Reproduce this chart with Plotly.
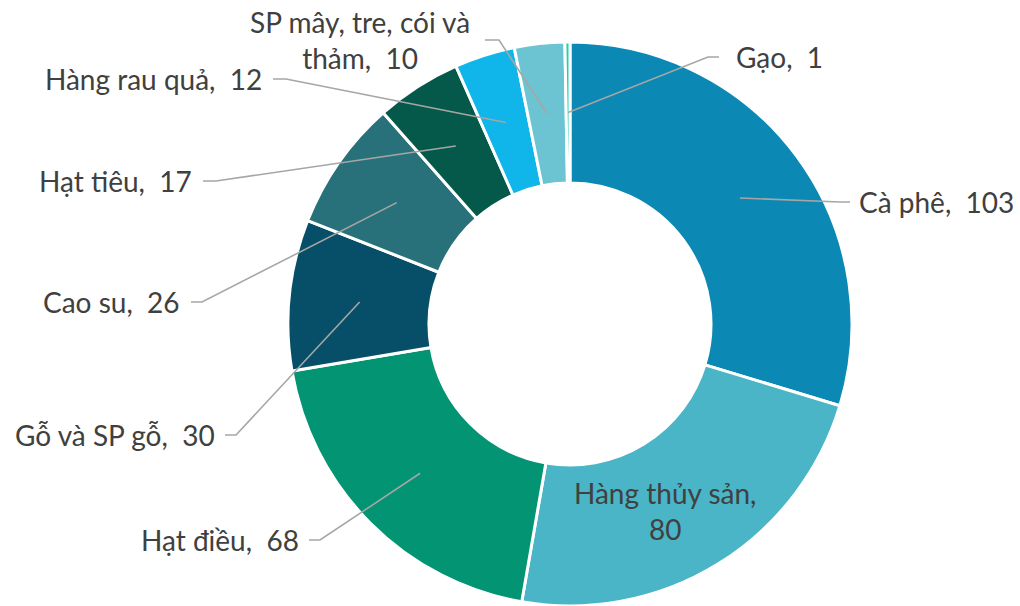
import math
import plotly.graph_objects as go

# ---- data ----
labels = ["Cà phê", "Hàng thủy sản", "Hạt điều", "Gỗ và SP gỗ", "Cao su",
          "Hạt tiêu", "Hàng rau quả", "SP mây, tre, cói và thảm", "Gạo"]
values = [103, 80, 68, 30, 26, 17, 12, 10, 1]
colors = ["#0b88b3", "#4ab5c6", "#039473", "#074f69", "#28717a",
          "#04594a", "#10b5ea", "#6cc4d2", "#22d0ae"]

SP = ",\u00a0 "
# ---- label layout (pixel positions of label texts) ----
# (text, x, y, xanchor, line_end_x, elbow_x)  ; None => no leader
label_layout = [
    ("Cà phê" + SP + "103", 858, 202, "left", 850, 840),
    ("Hàng thủy sản,<br>80", 665, 511, "center", None, None),
    ("Hạt điều" + SP + "68", 300, 540, "right", 309, 320),
    ("Gỗ và SP gỗ" + SP + "30", 216, 435, "right", 225, 236),
    ("Cao su" + SP + "26", 181, 302, "right", 191, 202),
    ("Hạt tiêu" + SP + "17", 193, 181, "right", 203, 216),
    ("Hàng rau quả" + SP + "12", 263, 79, "right", 273, 286),
    ("SP mây, tre, cói và<br>thảm" + SP + "10", 360, 40, "center", 485, 499),
    ("Gạo" + SP + "1", 735, 57, "left", 719, 708),
]

W, H = 1020, 606
CX, CY, R = 570, 324, 282
HOLE = 0.5

def px2paper(x, y):
    return x / W, 1 - y / H

x0, y0 = px2paper(CX - R, CY + R)
x1, y1 = px2paper(CX + R, CY - R)

fig = go.Figure(go.Pie(
    labels=labels, values=values, sort=False, direction="clockwise",
    rotation=0, hole=HOLE, textinfo="none", hoverinfo="label+value",
    marker=dict(colors=colors, line=dict(color="white", width=3)),
    domain=dict(x=[x0, x1], y=[max(0, y0), min(1, y1)]),
    showlegend=False,
))

total = sum(values)
cum = 0
rmid = R * (1 + HOLE) / 2
font = dict(family="Lato, 'Open Sans', sans-serif", size=28, color="#404040")
for v, (txt, tx, ty, xa, lx, ex) in zip(values, label_layout):
    mid = (cum + v / 2) / total * 2 * math.pi
    cum += v
    ax_ = CX + rmid * math.sin(mid)
    ay_ = CY - rmid * math.cos(mid)
    if lx is not None:
        pts = [(ax_, ay_), (ex, ty), (lx, ty)]
        path = "M " + " L ".join(f"{px2paper(a, b)[0]},{px2paper(a, b)[1]}" for a, b in pts)
        fig.add_shape(type="path", path=path, xref="paper", yref="paper",
                      line=dict(color="#a6a6a6", width=1.6))
    px, py = px2paper(tx, ty)
    fig.add_annotation(x=px, y=py, xref="paper", yref="paper", text=txt,
                       showarrow=False, xanchor=xa, yanchor="middle",
                       align="center", font=font, borderpad=0)

fig.update_layout(width=W, height=H, margin=dict(l=0, r=0, t=0, b=0),
                  paper_bgcolor="white", plot_bgcolor="white")
fig.write_html("out.html", config={"displayModeBar": False},
               post_script="document.body.style.margin='0';")
